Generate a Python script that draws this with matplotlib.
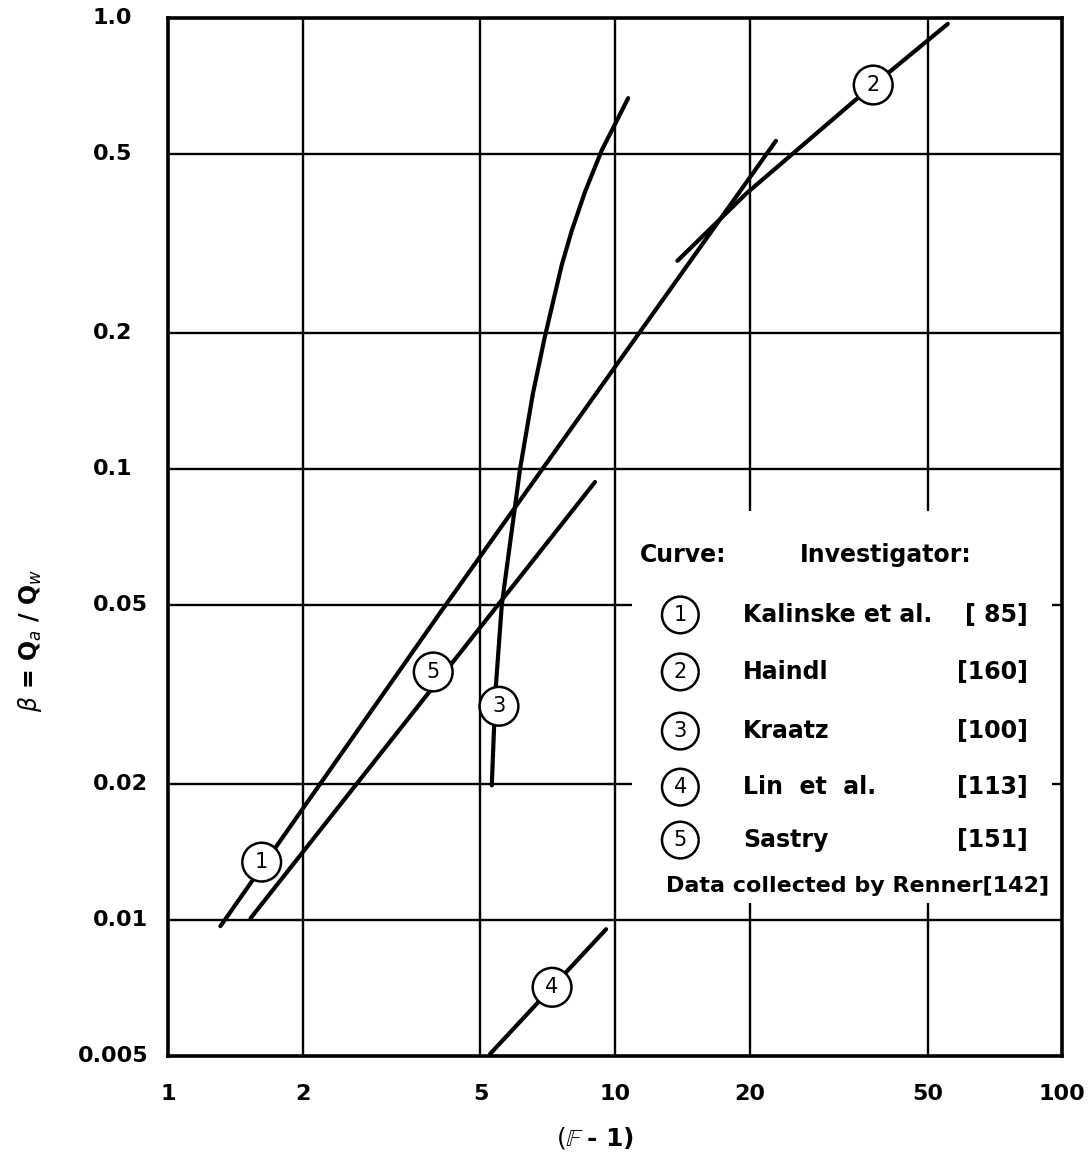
import matplotlib.pyplot as plt
from matplotlib.patches import Rectangle
from matplotlib.transforms import blended_transform_factory

# curve data (log-log)
kalinske_x = [1.31, 4.06, 22.9]
kalinske_y = [0.0097, 0.0480, 0.534]

haindl_x = [13.79, 19.71, 34.13, 55.5]
haindl_y = [0.2895, 0.409, 0.652, 0.970]

kraatz_x = [5.30, 5.40, 5.58, 6.13, 6.55, 6.97, 7.60, 8.00, 8.57, 9.34, 10.7]
kraatz_y = [0.0199, 0.032, 0.05, 0.1, 0.147, 0.197, 0.2835, 0.3375, 0.412, 0.509, 0.664]

lin_x = [5.25, 9.55]
lin_y = [0.00505, 0.00955]

sastry_x = [1.53, 9.02]
sastry_y = [0.0101, 0.0936]

# circled curve numbers
tag_labels = ['1', '2', '3', '4', '5']
tag_x = [1.62, 37.8, 5.50, 7.23, 3.92]
tag_y = [0.01345, 0.710, 0.0298, 0.0071, 0.0355]

x_ticks = [1, 2, 5, 10, 20, 50, 100]
x_ticklabels = ['1', '2', '5', '10', '20', '50', '100']
y_ticks = [0.005, 0.01, 0.02, 0.05, 0.1, 0.2, 0.5, 1.0]
y_ticklabels = ['0.005', '0.01', '0.02', '0.05', '0.1', '0.2', '0.5', '1.0']

legend_names = ['Kalinske et al.', 'Haindl', 'Kraatz', 'Lin  et  al.', 'Sastry']
legend_refs = ['[ 85]', '[160]', '[100]', '[113]', '[151]']

fig = plt.figure(figsize=(10.91, 11.56), dpi=100)
ax = fig.add_axes([0.154, 0.0865, 0.8195, 0.898])
ax.set_xscale('log')
ax.set_yscale('log')
ax.set_xlim(1, 100)
ax.set_ylim(0.005, 1.0)

ax.set_xticks(x_ticks)
ax.set_xticklabels(x_ticklabels)
ax.set_yticks(y_ticks)
ax.set_yticklabels([])
ax.minorticks_off()
ax.tick_params(length=0, labelsize=16)
ax.tick_params(axis='x', pad=20)
for lab in ax.get_xticklabels():
    lab.set_fontweight('bold')

# y tick labels, left aligned as in the original drawing
ytrans = blended_transform_factory(ax.transAxes, ax.transData)
for yv, lab in zip(y_ticks, y_ticklabels):
    xpos = -0.101 if lab == '0.005' else -0.084
    ax.text(xpos, yv, lab, transform=ytrans, ha='left', va='center',
            fontsize=16, fontweight='bold')

for s in ax.spines.values():
    s.set_linewidth(2.6)
    s.set_zorder(5)

# grid
for xv in x_ticks[1:-1]:
    ax.axvline(xv, color='black', lw=1.7, zorder=0.5)
for yv in y_ticks[1:-1]:
    ax.axhline(yv, color='black', lw=1.7, zorder=0.5)

# white area behind the legend text
ax.add_patch(Rectangle((0.519, 0.147), 0.47, 0.378, transform=ax.transAxes,
                       facecolor='white', edgecolor='none', zorder=1))

lw = 3.0
for xs, ys in [(kalinske_x, kalinske_y), (haindl_x, haindl_y), (kraatz_x, kraatz_y),
               (lin_x, lin_y), (sastry_x, sastry_y)]:
    ax.plot(xs, ys, color='black', lw=lw, solid_capstyle='round',
            solid_joinstyle='round', zorder=2)

circ = dict(boxstyle='circle,pad=0.45', fc='white', ec='black', lw=1.8)
for t, xv, yv in zip(tag_labels, tag_x, tag_y):
    ax.text(xv, yv, t, ha='center', va='center', fontsize=15, bbox=circ, zorder=4)

# legend block
ax.text(0.528, 0.4827, 'Curve:', transform=ax.transAxes, fontsize=17,
        fontweight='bold', ha='left', va='center', zorder=3)
ax.text(0.707, 0.4827, 'Investigator:', transform=ax.transAxes, fontsize=17,
        fontweight='bold', ha='left', va='center', zorder=3)
row_y = [0.4249, 0.370, 0.313, 0.259, 0.208]
circ2 = dict(boxstyle='circle,pad=0.4', fc='white', ec='black', lw=1.8)
for i, ry in enumerate(row_y):
    ax.text(0.573, ry, tag_labels[i], transform=ax.transAxes, fontsize=15,
            ha='center', va='center', bbox=circ2, zorder=3)
    ax.text(0.643, ry, legend_names[i], transform=ax.transAxes, fontsize=17,
            fontweight='bold', ha='left', va='center', zorder=3)
    ax.text(0.962, ry, legend_refs[i], transform=ax.transAxes, fontsize=17,
            fontweight='bold', ha='right', va='center', zorder=3)
ax.text(0.771, 0.164, 'Data collected by Renner[142]', transform=ax.transAxes,
        fontsize=16, fontweight='bold', ha='center', va='center', zorder=3)

ax.set_xlabel(r'$(\mathbb{F}$ - 1)', fontsize=18, fontweight='bold')
ax.xaxis.set_label_coords(0.478, -0.066)
ax.set_ylabel(r'$\beta$ = Q$_a$ / Q$_w$', fontsize=17, fontweight='bold')
ax.yaxis.set_label_coords(-0.139, 0.40)

fig.savefig('out.png', dpi=100)
